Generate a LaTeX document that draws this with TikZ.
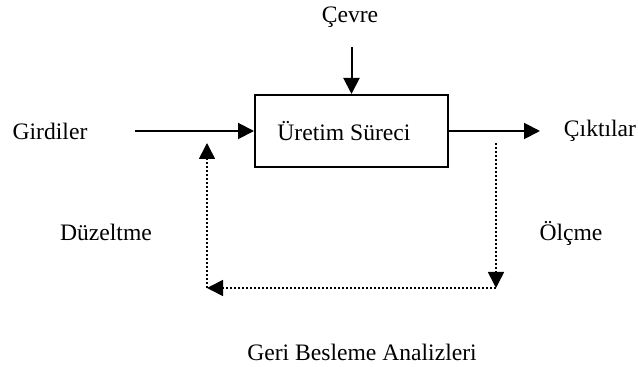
\documentclass[tikz,border=0pt]{standalone}
\usepackage{fontspec}
\setmainfont{Liberation Serif}
\usetikzlibrary{arrows.meta}
\begin{document}
\begin{tikzpicture}[x=0.5pt,y=-0.5pt,
  lbl/.style={inner sep=0pt,font=\fontsize{11.8}{14}\selectfont},
  solidarrow/.style={line width=1pt,-{Triangle[length=8pt,width=8pt]}},
  dotarrow/.style={line width=0.8pt,dash pattern=on 0.8pt off 1.2pt,-{Triangle[length=8pt,width=8pt]}}]
\useasboundingbox (0,0) rectangle (638,367);
\node[draw,line width=1pt,minimum width=96.5pt,minimum height=36pt,inner sep=0pt] (box) at (351.5,131) {};
\node[lbl,anchor=west] (proc) at (277,131) {Üretim Süreci};
\node[lbl] (cevre) at (350,17) {Çevre};
\node[lbl] (gir) at (50,131) {Girdiler};
\node[lbl] (cik) at (600,131) {Çıktılar};
\node[lbl] (duz) at (106,232) {Düzeltme};
\node[lbl] (olc) at (571,233) {Ölçme};
\node[lbl] (geri) at (362,352) {Geri Besleme Analizleri};
\coordinate (inS) at (135,131);
\coordinate (outE) at (540,131);
\coordinate (cvS) at (351.5,47);
\coordinate (rT) at (496,143);
\coordinate (rB) at (496,288);
\coordinate (lB) at (207,288);
\coordinate (lT) at (207,143);
\draw[solidarrow] (inS) -- (box.west);
\draw[solidarrow] (box.east) -- (outE);
\draw[solidarrow] (cvS) -- (box.north);
\draw[dotarrow] (rT) -- (rB);
\draw[dotarrow] (rB) -- (lB);
\draw[dotarrow] (lB) -- (lT);
\end{tikzpicture}
\end{document}
